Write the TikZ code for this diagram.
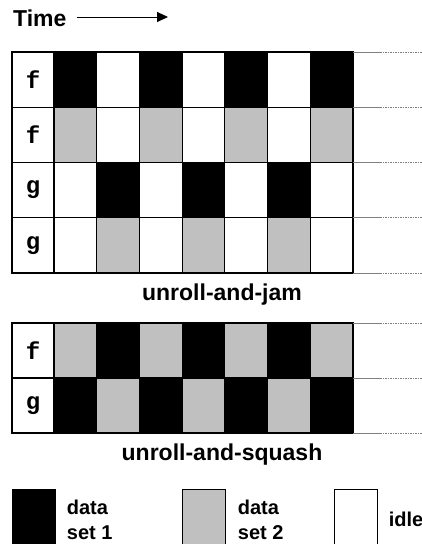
\documentclass[tikz,border=0pt]{standalone}
\usepackage{fontspec}
\setmainfont{Liberation Sans}
\setmonofont{Liberation Mono}
\usetikzlibrary{arrows.meta,positioning}
\definecolor{settwo}{RGB}{192,192,192}

\tikzset{
  cell/.style={draw=black,line width=1.2pt},
  rowlabel/.style={inner sep=0pt,font=\fontsize{24}{24}\selectfont\ttfamily\bfseries},
  caption/.style={inner sep=0pt,font=\fontsize{23}{27}\selectfont\bfseries},
  swatch/.style={draw=black,line width=1pt,minimum width=42.7pt,minimum height=60pt,inner sep=0pt,anchor=north west},
  legendtext/.style={inner sep=0pt,align=left,font=\fontsize{20}{25}\selectfont\bfseries},
  openline/.style={draw=gray,line width=1pt},
  openfade/.style={draw=gray,line width=0.8pt,dash pattern=on 1.5pt off 1pt}
}

\begin{document}
\begin{tikzpicture}[x=1pt,y=-1pt]
	\useasboundingbox (0,0) rectangle (422,544);
	
	% Time arrow
	\node[caption,anchor=west] (time) at (13,18) {Time};
	\coordinate (timeend) at (168,17);
	\draw[line width=0.9pt,-{Triangle[length=11pt,width=10pt]}] ([xshift=10pt]time.east |- timeend) -- (timeend);
	
	% unroll-and-jam: four rows
	\foreach \pattern [count=\r] in {
		{black,white,black,white,black,white,black},
		{settwo,white,settwo,white,settwo,white,settwo},
		{white,black,white,black,white,black,white},
		{white,settwo,white,settwo,white,settwo,white}}{
		\foreach \tone [count=\k] in \pattern
			\draw[cell,fill=\tone] ({54+(\k-1)*42.71},{52+(\r-1)*55.25}) rectangle +(42.71,55.25);
		\draw[cell] (12,{52+(\r-1)*55.25}) rectangle +(42,55.25);
	}
	\node[rowlabel] (jamf1) at (33,79.6) {f};
	\node[rowlabel] (jamf2) at (33,134.9) {f};
	\node[rowlabel] (jamg1) at (33,190.1) {g};
	\node[rowlabel] (jamg2) at (33,245.4) {g};
	
	% open end of the rows
	\foreach \y in {52,107.25,162.5,217.75,273}{
		\draw[openline] (353,\y) -- (380,\y);
		\draw[openfade] (380,\y) -- (422,\y);
	}
	
	\node[caption] (jam) at (222,295) {unroll-and-jam};
	
	% unroll-and-squash: two rows
	\foreach \pattern [count=\r] in {
		{settwo,black,settwo,black,settwo,black,settwo},
		{black,settwo,black,settwo,black,settwo,black}}{
		\foreach \tone [count=\k] in \pattern
			\draw[cell,fill=\tone] ({54+(\k-1)*42.71},{323+(\r-1)*55}) rectangle +(42.71,55);
		\draw[cell] (12,{323+(\r-1)*55}) rectangle +(42,55);
	}
	\node[rowlabel] (squashf) at (33,350.5) {f};
	\node[rowlabel] (squashg) at (33,405.5) {g};
	
	\foreach \y in {323,378,433}{
		\draw[openline] (353,\y) -- (380,\y);
		\draw[openfade] (380,\y) -- (422,\y);
	}
	
	\node[caption] (squash) at (222,455) {unroll-and-squash};
	
	% Legend
	\node[swatch,fill=black] (set1) at (12,489) {};
	\node[legendtext,right=11pt of set1] (set1txt) {data\\set 1};
	\node[swatch,fill=settwo] (set2) at (182,489) {};
	\node[legendtext,right=12pt of set2] (set2txt) {data\\set 2};
	\node[swatch,fill=white] (idle) at (334,489) {};
	\node[legendtext,right=11pt of idle] (idletxt) {idle};
	
\end{tikzpicture}
\end{document}
